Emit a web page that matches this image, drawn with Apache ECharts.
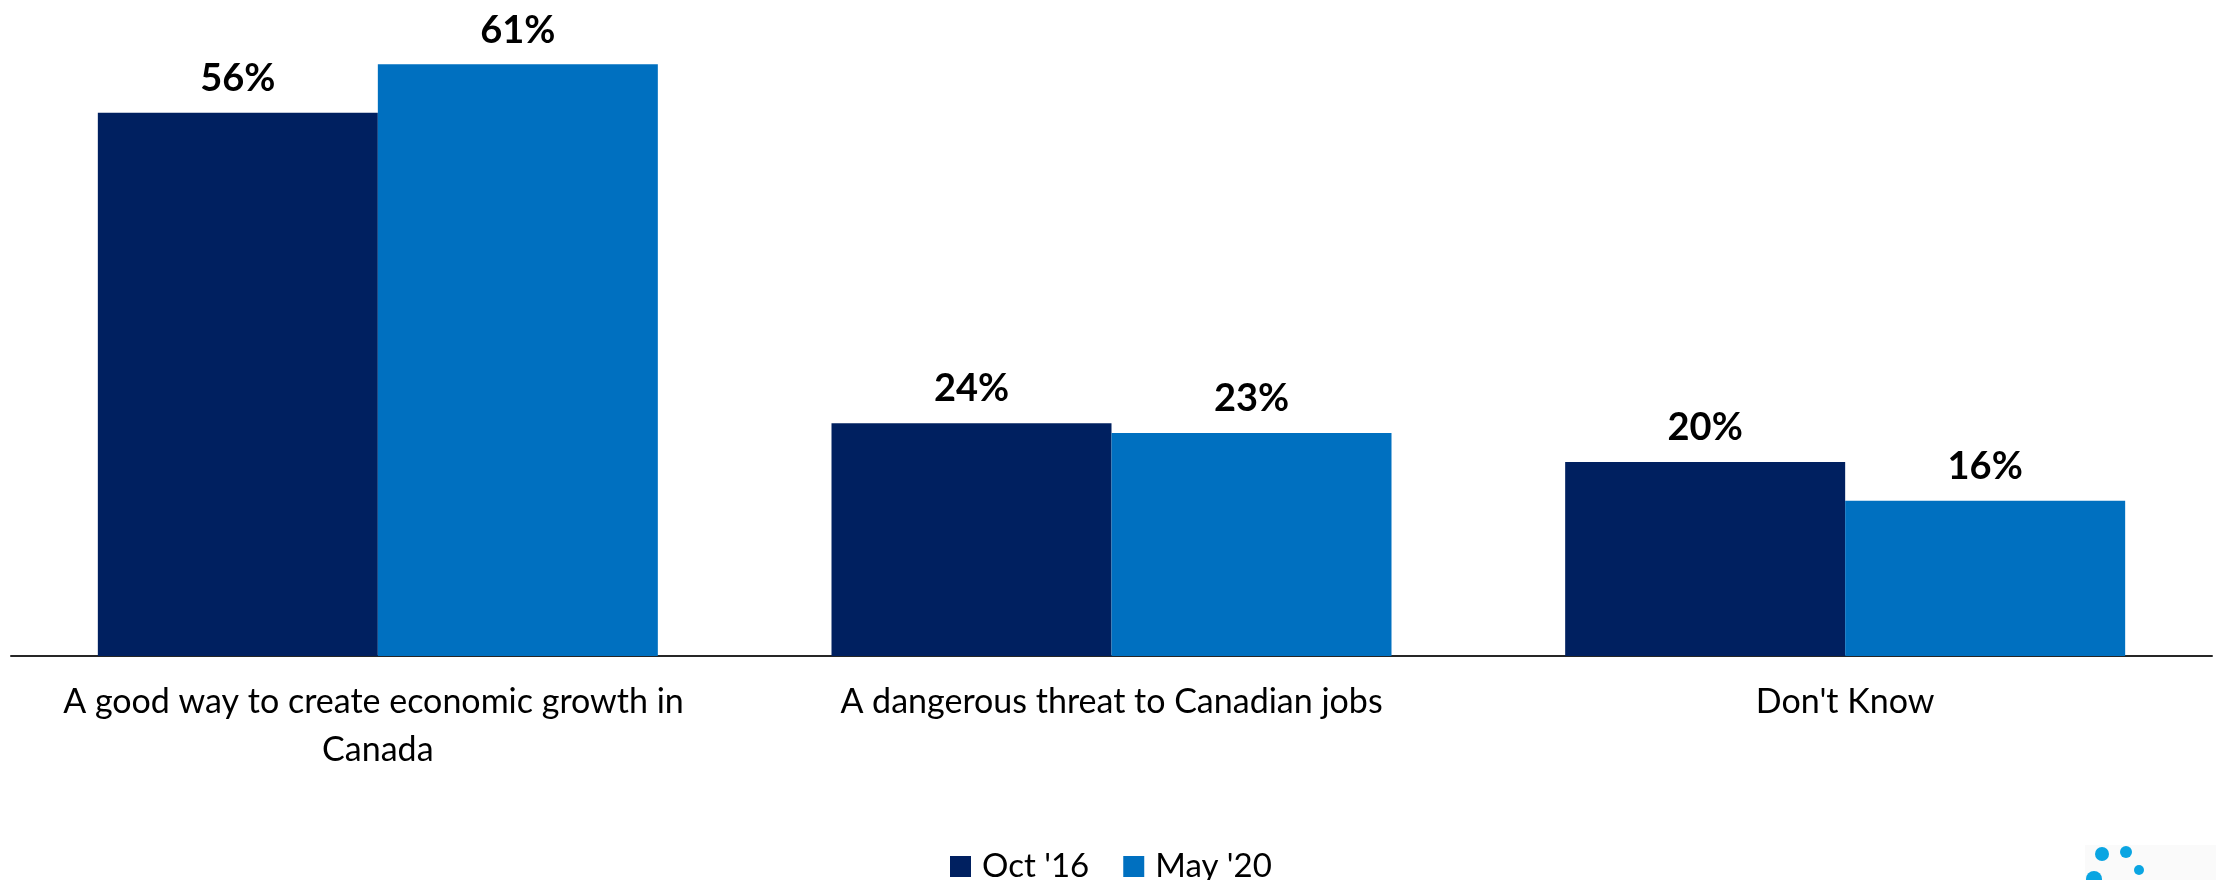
<!DOCTYPE html>
<html>
<head>
<meta charset="utf-8">
<script src="https://cdn.jsdelivr.net/npm/echarts@6/dist/echarts.min.js"></script>
<style>
html,body{margin:0;padding:0;background:#fff;}
#chart{width:2216px;height:880px;}
</style>
</head>
<body>
<div id="chart"></div>
<script>
const categories = ["A good way to create economic growth in Canada", "A dangerous threat to Canadian jobs", "Don't Know"];
const seriesNames = ["Oct '16", "May '20"];
const oct16 = [56, 24, 20];
const may20 = [61, 23, 16];
const colors = ["#002060", "#0070C0"];

const chart = echarts.init(document.getElementById('chart'));
const FONT = 'Lato, "Open Sans", sans-serif';
const labelCfg = {
  show: true,
  position: 'top',
  distance: 15,
  formatter: p => p.value + '%',
  fontFamily: FONT,
  fontWeight: 'bold',
  fontSize: 38,
  color: '#000'
};
chart.setOption({
  animation: false,
  color: colors,
  grid: { left: 11, right: 4, top: 25.5, bottom: 224, containLabel: false },
  legend: {
    data: seriesNames,
    left: 950,
    top: 850,
    padding: 0,
    icon: 'rect',
    itemWidth: 21,
    itemHeight: 21,
    itemGap: 34,
    textStyle: { fontFamily: FONT, fontSize: 33, color: '#000', lineHeight: 21, padding: [0, 0, 0, 6] }
  },
  xAxis: {
    type: 'category',
    data: categories,
    axisLine: { lineStyle: { color: '#262626', width: 2 } },
    axisTick: { show: false },
    axisLabel: {
      interval: 0,
      width: 690,
      overflow: 'break',
      margin: 22,
      fontFamily: FONT,
      fontSize: 34,
      lineHeight: 48,
      color: '#000'
    }
  },
  yAxis: {
    type: 'value',
    min: 0,
    max: 65,
    show: false,
    splitLine: { show: false }
  },
  series: [
    { name: seriesNames[0], type: 'bar', data: oct16, barWidth: 280, barGap: '0%', label: labelCfg, itemStyle: { color: colors[0] } },
    { name: seriesNames[1], type: 'bar', data: may20, barWidth: 280, barGap: '0%', label: labelCfg, itemStyle: { color: colors[1] } }
  ],
  graphic: [
    { type: 'rect', shape: { x: 2085, y: 845, width: 131, height: 35 }, style: { fill: '#fafafa' }, silent: true },
    { type: 'circle', shape: { cx: 2102, cy: 854, r: 7 }, style: { fill: '#0AA5E2' }, silent: true },
    { type: 'circle', shape: { cx: 2126, cy: 852, r: 6 }, style: { fill: '#0AA5E2' }, silent: true },
    { type: 'circle', shape: { cx: 2139, cy: 870, r: 5 }, style: { fill: '#0AA5E2' }, silent: true },
    { type: 'circle', shape: { cx: 2094, cy: 879, r: 8 }, style: { fill: '#0AA5E2' }, silent: true }
  ]
});
</script>
</body>
</html>
